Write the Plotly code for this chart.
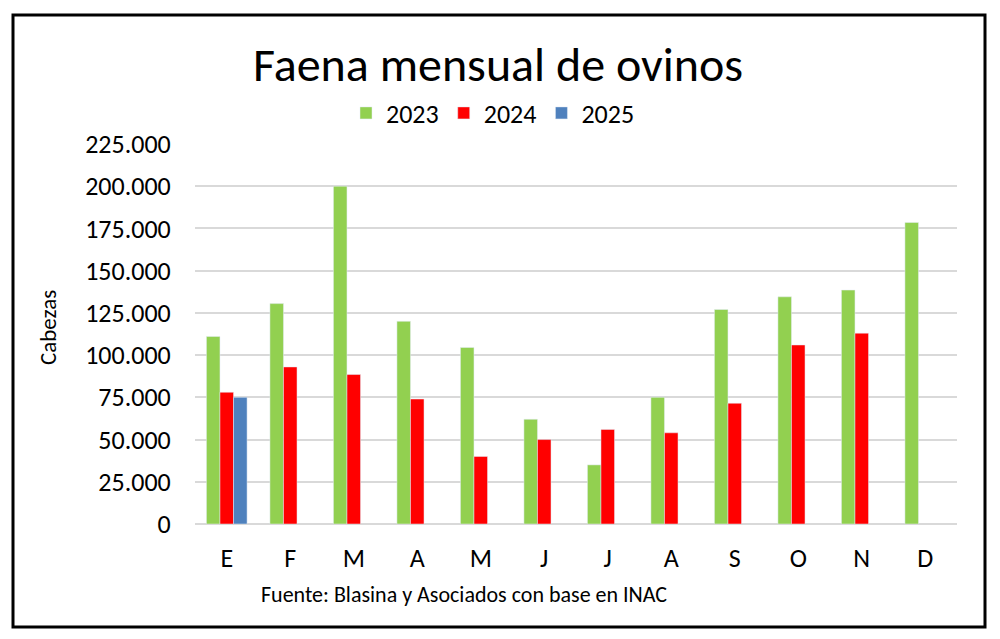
import plotly.graph_objects as go

months = ["E", "F", "M", "A", "M", "J", "J", "A", "S", "O", "N", "D"]
v2023 = [111000, 130500, 200000, 120000, 104500, 62000, 35000, 75000, 127000, 134500, 138500, 178500]
v2024 = [78000, 93000, 88500, 74000, 40000, 50000, 56000, 54000, 71500, 106000, 113000, None]
v2025 = [75000, None, None, None, None, None, None, None, None, None, None, None]
ytick_vals = [0, 25000, 50000, 75000, 100000, 125000, 150000, 175000, 200000, 225000]
ytick_text = ["0", "25.000", "50.000", "75.000", "100.000", "125.000", "150.000", "175.000", "200.000", "225.000"]

FONT = "Carlito, Calibri, Lato, sans-serif"
xs = list(range(len(months)))

fig = go.Figure()
fig.add_trace(go.Bar(x=xs, y=v2023, name="2023", marker_color="#92D050"))
fig.add_trace(go.Bar(x=xs, y=v2024, name="2024", marker_color="#FF0000"))
fig.add_trace(go.Bar(x=xs, y=v2025, name="2025", marker_color="#4F81BD"))

OFF = 8  # page body margin
L, R, T, B = 195 - OFF, 957 - OFF, 144 - OFF, 524 - OFF
W, H = 1000 - OFF, 639 - OFF
pw, ph = R - L, B - T

def px(x):
    return (x - OFF - L) / pw

def py(y):
    return (B - (y - OFF)) / ph

fig.update_layout(
    width=W, height=H,
    margin=dict(l=L, r=W - R, t=T, b=H - B),
    paper_bgcolor="white", plot_bgcolor="white",
    barmode="group", bargap=0.36, bargroupgap=0,
    font=dict(family=FONT, color="black"),
    showlegend=True,
    legend=dict(orientation="h", x=px(493), y=py(113), xanchor="center", yanchor="middle",
                font=dict(size=26, family=FONT), traceorder="normal"),
    title=dict(text="Faena mensual de ovinos", x=(498 - OFF) / W, y=1 - (64 - OFF) / H,
               xanchor="center", yanchor="middle", xref="container", yref="container",
               font=dict(size=48, family=FONT, color="black")),
    xaxis=dict(tickmode="array", tickvals=xs, ticktext=months, range=[-0.5, 11.5],
               showgrid=False, showline=False, zeroline=False,
               ticks="outside", ticklen=11, tickcolor="rgba(0,0,0,0)",
               tickfont=dict(size=26, family=FONT)),
    yaxis=dict(tickmode="array", tickvals=ytick_vals, ticktext=ytick_text, range=[0, 225000],
               showgrid=True, gridcolor="#D9D9D9", gridwidth=1.5,
               zeroline=True, zerolinecolor="#D9D9D9", zerolinewidth=1.5,
               showline=False, ticks="outside", ticklen=18, tickcolor="rgba(0,0,0,0)",
               tickfont=dict(size=26, family=FONT)),
    shapes=[dict(type="rect", xref="paper", yref="paper",
                 x0=px(13), x1=px(985), y0=py(627), y1=py(15),
                 line=dict(color="black", width=3), fillcolor="rgba(0,0,0,0)", layer="below")],
    annotations=[
        dict(text="Cabezas", xref="paper", yref="paper", x=px(48), y=py(328),
             xanchor="center", yanchor="middle", textangle=-90, showarrow=False,
             font=dict(size=23, family=FONT)),
        dict(text="Fuente: Blasina y Asociados con base en INAC", xref="paper", yref="paper",
             x=px(464), y=py(594), xanchor="center", yanchor="middle", showarrow=False,
             font=dict(size=22, family=FONT)),
    ],
)

fig.write_html("out.html")
